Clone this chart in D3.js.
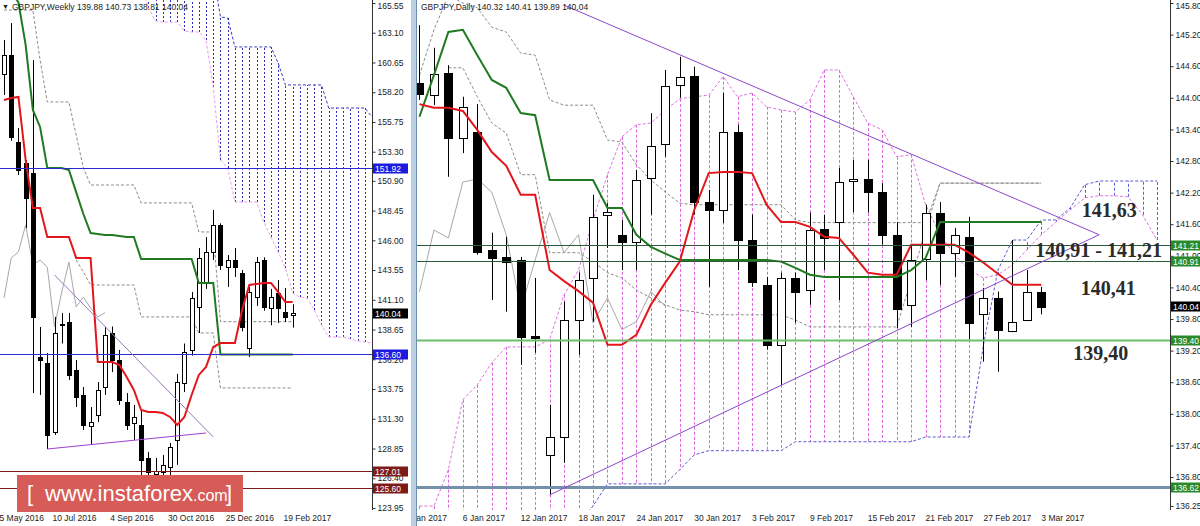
<!DOCTYPE html>
<html>
<head>
<meta charset="utf-8">
<script src="https://cdn.jsdelivr.net/npm/d3@7/dist/d3.min.js"></script>
<style>
  body { margin: 0; background: #fff; }
  svg { display: block; font-family: "Liberation Sans", Arial, sans-serif; }
  .axis text { font-size: 8.5px; fill: #222; }
  .axis line { stroke: #333; }
</style>
</head>
<body>
<svg class="chart" width="1200" height="526"></svg>
<script>
// ---------- weekly GBPJPY, weeks from 22 May 2016 to 26 Feb 2017 ----------
var wOpen  = [159.70,161.27,154.10,152.37,151.55,136.40,135.90,130.21,139.10,139.27,135.32,133.26,130.71,131.61,133.92,138.37,136.14,132.68,130.95,130.79,128.07,126.75,126.92,127.33,129.55,134.25,136.97,140.51,142.57,145.04,147.26,143.80,144.38,143.31,137.13,141.33,144.38,140.43,141.66,140.10,139.88];
var wHigh  = [162.50,163.90,155.25,152.62,160.85,138.86,136.72,139.69,140.02,140.02,136.14,133.92,132.27,134.33,138.86,138.90,136.97,133.42,132.44,132.02,128.57,128.07,128.32,129.31,135.00,137.50,141.74,145.37,146.27,148.50,147.40,144.79,145.37,143.56,142.16,144.63,144.60,142.00,142.73,142.07,140.73];
var wLow   = [157.97,154.20,151.38,147.00,133.42,133.26,128.81,129.97,137.50,134.50,132.27,130.38,129.14,131.04,133.26,135.15,132.44,130.38,129.55,124.00,125.90,126.00,126.20,126.50,127.50,133.50,136.50,138.37,142.00,144.38,143.56,142.16,142.98,138.50,136.39,140.60,140.20,139.00,139.19,139.27,138.81];
var wClose = [161.27,154.51,151.79,149.49,139.69,136.14,129.97,138.37,139.03,134.91,133.10,130.79,131.04,133.67,138.20,136.14,132.85,130.79,131.45,127.91,126.92,127.00,127.49,128.98,134.33,136.80,141.25,144.55,145.04,147.26,143.97,144.38,143.80,138.86,141.74,144.22,140.51,141.33,140.43,139.69,140.04];
var wTenkan = [157.56,157.73,157.81,152.62,148.66,148.66,146.27,146.27,146.27,146.27,144.55,144.55,144.55,135.98,135.98,135.98,135.73,134.74,133.67,132.02,131.86,131.86,131.78,131.45,130.79,131.45,133.26,134.91,135.57,137.21,137.54,137.54,137.54,140.26,142.32,142.40,142.49,142.49,141.74,140.92,140.92];
var wKijun = [166.50,166.50,165.60,162.10,156.74,155.34,151.96,151.96,151.96,151.79,149.97,148.17,146.60,146.52,146.44,146.44,146.35,146.27,146.27,144.46,144.46,144.46,144.46,144.46,144.46,144.46,144.46,142.49,142.49,142.49,136.60,136.60,136.60,136.60,136.60,136.60,136.60,136.60,136.60,136.60,136.60];
// cloud, 41 weeks + 11 weeks ahead
var wSpanA = [167,167,167,167,167,167,167,167,167,167,167,167,167,167,167,167,167,167,167,167,165.14,164.07,163.98,163.98,163.98,163.24,163.16,163.16,162.50,158.63,152.62,151.96,149.16,149.16,149.16,149.16,147.51,146.27,145.04,143.72,141.66,141.33,141.25,140.26,139.03,138.04,138.04,138.04,137.87,137.71,137.63,137.54];
var wSpanB = [168,168,168,168,168,168,168,168,168,168,168,168,168,168,168,168,168,168,168,168,168,168,168,168,168,168,168,168,168,168,164.40,164.31,161.93,161.93,161.93,161.93,161.93,161.93,160.60,158.80,158.80,158.80,158.80,158.80,158.80,156.90,156.90,156.90,156.90,156.90,156.90,156.16];
var wChanHi = [164.97,164.97,164.97,164.97,164.97,160.85,157.40,157.40,157.40,157.40,154.68,151.96,150.56,150.56,150.56,150.56,150.56,150.56,150.56,149.08,149.08,149.08,149.08,149.08,149.08,149.08,149.08,146.69,146.69,146.69,139.30,139.30,139.30,139.30,139.30,139.30,139.30,139.30,139.30,139.30,139.30];
var wChanLo = [null,null,null,null,null,null,null,null,null,null,144.38,143.39,142.32,142.32,142.32,142.32,142.32,142.32,142.32,139.69,139.69,139.69,139.69,139.69,139.69,139.69,139.69,138.37,138.37,138.37,133.84,133.84,133.84,133.84,133.84,133.84,133.84,133.84,133.84,133.84,133.84];
var wTicks = [165.55,163.10,160.65,158.20,155.75,153.30,150.90,148.45,146.00,143.55,141.10,138.65,136.20,133.75,131.30,128.85,126.40,123.95];
var wTimeLabels = ["2016-05-15","2016-07-10","2016-09-04","2016-10-30","2016-12-25","2017-02-19"];
var wLevels = [151.92, 136.60, 127.01, 125.60];

// ---------- daily GBPJPY, 3 Jan 2017 to 3 Mar 2017 ----------
var dOpen  = [144.28,144.05,144.47,143.24,143.35,141.11,140.98,140.92,139.48,137.22,137.56,139.78,140.58,141.78,141.40,141.26,142.48,143.11,144.24,144.41,142.02,141.87,143.35,141.30,140.45,139.31,140.58,140.35,141.51,141.64,142.42,142.46,142.21,141.40,140.07,140.94,141.82,141.06,141.36,139.90,140.20,139.58,139.78,140.32];
var dHigh  = [145.38,144.95,144.62,144.02,143.88,141.44,141.36,140.98,140.58,138.17,140.13,140.68,142.16,142.00,141.68,142.63,143.71,144.53,144.78,144.59,142.25,144.09,143.49,141.78,140.60,140.68,140.68,141.82,141.78,142.67,142.82,142.82,142.38,141.64,141.21,141.97,142.02,141.53,141.74,140.39,140.32,141.30,140.73,140.41];
var dLow   = [143.96,143.86,142.50,142.95,141.02,140.16,139.94,138.93,139.16,136.46,137.07,139.12,139.75,141.15,140.73,140.73,141.78,142.88,144.00,141.78,140.41,141.62,140.73,140.41,139.22,138.55,139.73,140.07,140.73,140.16,141.83,141.82,141.21,139.63,139.65,140.54,140.45,140.60,139.41,138.99,138.80,139.55,139.76,139.89];
var dClose = [144.07,144.45,143.24,143.83,141.08,140.96,140.89,139.46,139.44,137.56,139.78,140.54,141.74,141.83,141.26,142.44,143.09,144.22,144.40,142.02,141.87,143.35,141.30,140.51,139.31,140.58,140.32,141.49,141.34,142.40,142.46,142.21,141.40,139.99,140.92,141.82,141.06,141.40,139.73,140.20,139.60,139.75,140.32,140.04];
var dTenkan = [143.88,143.81,143.81,143.75,143.39,142.97,142.71,142.16,142.16,140.73,140.52,140.33,140.11,139.31,139.31,139.50,140.07,140.49,140.89,141.87,142.57,142.59,142.59,142.57,141.97,141.64,141.64,141.55,141.36,141.34,141.02,140.68,140.64,140.64,141.21,141.21,141.21,141.21,141.06,140.87,140.66,140.45,140.45,140.45];
var dKijun = [143.64,144.43,145.25,145.29,144.81,144.34,144.19,143.71,143.67,142.44,142.44,142.44,142.44,141.91,141.91,141.40,141.17,141.04,140.92,140.92,140.92,140.92,140.92,140.92,140.92,140.89,140.77,140.64,140.60,140.60,140.60,140.60,140.60,140.60,140.73,140.96,141.64,141.64,141.64,141.64,141.64,141.64,141.64,141.64];
// cloud, 44 days + 8 days ahead
var dSpanA = [136.25,136.25,136.94,138.27,138.55,138.97,139.27,139.27,139.27,139.41,140.26,140.73,141.68,142.54,143.26,143.49,143.52,143.77,143.98,144.02,144.05,144.40,144.02,144.09,143.83,143.77,143.73,143.96,144.53,144.53,144.02,143.52,143.39,142.88,142.92,141.97,141.40,141.02,140.73,140.58,140.64,140.83,141.11,141.40,141.64,141.87,142.10,142.14,142.14,142.12,141.78,141.30];
var dSpanB = [135.90,135.90,135.90,135.90,135.90,135.90,135.90,135.90,135.90,135.90,135.90,135.90,136.25,136.67,136.67,136.67,136.67,136.67,136.94,137.22,137.30,137.30,137.30,137.30,137.30,137.30,137.47,137.47,137.47,137.47,137.47,137.47,137.47,137.47,137.47,137.56,137.56,137.56,137.56,139.31,140.73,141.30,141.30,141.68,141.68,141.91,142.35,142.42,142.42,142.42,142.42,142.42];
var dChanHi = [144.43,145.29,145.95,145.80,145.71,145.34,145.25,144.85,144.81,143.96,143.86,143.86,143.86,143.20,143.16,142.73,142.44,142.21,142.00,141.97,141.97,141.97,141.97,141.97,141.97,141.97,141.68,141.63,141.63,141.63,141.63,141.63,141.63,141.63,141.63,141.63,142.38,142.38,142.38,142.38,142.38,142.38,142.38,142.38];
var dChanLo = [null,null,144.57,144.57,144.02,143.52,143.33,142.54,142.54,141.06,141.06,141.06,140.89,140.68,140.58,140.35,140.20,140.07,139.97,139.94,139.88,139.88,139.88,139.88,139.88,139.88,139.78,139.65,139.65,139.65,139.65,139.65,139.65,139.65,140.54,141.49,142.38,142.38,142.38,142.38,142.38,142.38,142.38,142.38];
var dTicks = [145.80,145.20,144.60,144.00,143.40,142.80,142.20,141.60,141.00,140.40,139.80,139.20,138.60,138.00,137.40,136.80,136.25];
var dTimeLabels = ["2017-01-02","2017-01-06","2017-01-12","2017-01-18","2017-01-24","2017-01-30","2017-02-03","2017-02-09","2017-02-15","2017-02-21","2017-02-27","2017-03-03"];
var dLevels = [141.21, 140.91, 139.40, 136.62];
var lastPrice = 140.04;

var svg = d3.select(".chart");
var parse = d3.utcParse("%Y-%m-%d");
var fmt = d3.utcFormat("%Y-%m-%d");
var labelFmt = d3.utcFormat("%-d %b %Y");

// weekly scales
var wAll = d3.utcWeek.range(parse("2016-05-22"), parse("2017-05-15"));
var wDates = wAll.slice(0, wOpen.length);
var xW = d3.scaleUtc().domain([wAll[0], wAll[wAll.length - 1]]).range([4, 372]);
var yW = d3.scaleLinear().domain([123.95, 165.55]).range([508, 3]);

// daily scales (trading days only)
var dAll = d3.utcDay.range(parse("2017-01-02"), parse("2017-03-16"))
  .filter(function(d) { var k = d.getUTCDay(); return k > 0 && k < 6; })
  .map(fmt);
var xD = d3.scalePoint().domain(dAll).range([405, 1157]);
var yD = d3.scaleLinear().domain([136.25, 145.80]).range([506, 3]);
var dDates = dAll.slice(1, 1 + dOpen.length);
var dCloud = dAll.slice(1);

var defs = svg.append("defs");
defs.append("clipPath").attr("id", "clipW").append("rect").attr("x", 0).attr("y", 0).attr("width", 372).attr("height", 510);
defs.append("clipPath").attr("id", "clipD").append("rect").attr("x", 417).attr("y", 0).attr("width", 753).attr("height", 510);
defs.append("clipPath").attr("id", "clipDL").append("rect").attr("x", 417).attr("y", 0).attr("width", 753).attr("height", 526);

function px(v) { return Math.round(v) + 0.5; }

function drawPanel(p) {
  var g = svg.append("g").attr("clip-path", "url(#" + p.clip + ")");

  // cloud hatching
  g.append("g").selectAll("line").data(d3.range(p.spanA.length)).enter().append("line")
    .attr("x1", function(i) { return px(p.x(p.cloudDates[i])); })
    .attr("x2", function(i) { return px(p.x(p.cloudDates[i])); })
    .attr("y1", function(i) { return p.y(p.spanA[i]); })
    .attr("y2", function(i) { return p.y(p.spanB[i]); })
    .attr("stroke", function(i) { return p.spanA[i] > p.spanB[i] ? p.pinkFill : p.blueFill; })
    .attr("stroke-dasharray", p.fillDash);

  var cloudLine = function(arr) {
    return d3.line().x(function(d, i) { return p.x(p.cloudDates[i]); }).y(function(d) { return p.y(d); })(arr);
  };
  g.append("path").attr("d", cloudLine(p.spanA)).attr("fill", "none")
    .attr("stroke", p.pinkLine).attr("stroke-dasharray", "3,2");
  g.append("path").attr("d", cloudLine(p.spanB)).attr("fill", "none")
    .attr("stroke", p.blueLine).attr("stroke-dasharray", "3,2");

  var barLine = d3.line()
    .defined(function(d) { return d != null; })
    .x(function(d, i) { return p.x(p.dates[i]); })
    .y(function(d) { return p.y(d); });

  // channel lines
  [p.chanHi, p.chanLo].forEach(function(arr) {
    g.append("path").attr("d", barLine(arr)).attr("fill", "none")
      .attr("stroke", "#8c8c8c").attr("stroke-dasharray", "3,2");
  });

  // chikou: close shifted 26 bars back
  var lag = d3.range(p.close.length - 26);
  g.append("path")
    .attr("d", d3.line().x(function(i) { return p.x(p.dates[i]); }).y(function(i) { return p.y(p.close[i + 26]); })(lag))
    .attr("fill", "none").attr("stroke", "#a8a8a8").attr("stroke-width", 1);

  // candles
  var idx = d3.range(p.open.length);
  g.append("g").selectAll("line").data(idx).enter().append("line")
    .attr("x1", function(i) { return px(p.x(p.dates[i])); })
    .attr("x2", function(i) { return px(p.x(p.dates[i])); })
    .attr("y1", function(i) { return p.y(p.high[i]); })
    .attr("y2", function(i) { return p.y(p.low[i]); })
    .attr("stroke", "#000");
  g.append("g").selectAll("rect").data(idx).enter().append("rect")
    .attr("x", function(i) { return Math.round(p.x(p.dates[i])) - Math.floor(p.bodyW / 2) + 0.5; })
    .attr("y", function(i) { return Math.round(p.y(Math.max(p.open[i], p.close[i]))) + 0.5; })
    .attr("width", p.bodyW - 1)
    .attr("height", function(i) { return Math.max(1, Math.round(Math.abs(p.y(p.open[i]) - p.y(p.close[i])))); })
    .attr("fill", function(i) { return p.close[i] >= p.open[i] ? "#fff" : "#000"; })
    .attr("stroke", "#000");

  // kijun & tenkan
  g.append("path").attr("d", barLine(p.kijun)).attr("fill", "none").attr("stroke", "#1f7a22").attr("stroke-width", 2);
  g.append("path").attr("d", barLine(p.tenkan)).attr("fill", "none").attr("stroke", "#e3161b").attr("stroke-width", 2);
  return g;
}

var gW = drawPanel({
  clip: "clipW", x: xW, y: yW, dates: wDates, cloudDates: wAll,
  open: wOpen, high: wHigh, low: wLow, close: wClose,
  tenkan: wTenkan, kijun: wKijun, spanA: wSpanA, spanB: wSpanB,
  chanHi: wChanHi, chanLo: wChanLo, bodyW: 5,
  pinkFill: "#e58de5", blueFill: "#2c2cb4", pinkLine: "#eb9deb", blueLine: "#3c3cc0", fillDash: "2,2"
});
var gD = drawPanel({
  clip: "clipD", x: xD, y: yD, dates: dDates, cloudDates: dCloud,
  open: dOpen, high: dHigh, low: dLow, close: dClose,
  tenkan: dTenkan, kijun: dKijun, spanA: dSpanA, spanB: dSpanB,
  chanHi: dChanHi, chanLo: dChanLo, bodyW: 9,
  pinkFill: "#dd66dd", blueFill: "#5560d8", pinkLine: "#e070e0", blueLine: "#5a5ad0", fillDash: "3,2"
});

// horizontal levels
var wLevelColor = ["#2b2bd0", "#2b2bd0", "#7d1a1a", "#7d1a1a"];
gW.selectAll(".lvl").data(wLevels).enter().append("line")
  .attr("x1", 0).attr("x2", 372)
  .attr("y1", function(d) { return px(yW(d)); }).attr("y2", function(d) { return px(yW(d)); })
  .attr("stroke", function(d, i) { return wLevelColor[i]; });

var dLevelColor = ["#2f5a3a", "#2f5a3a", "#6cbf6c", "#7590aa"];
var dLevelWidth = [1, 1, 2, 3];
gD.selectAll(".lvl").data(dLevels).enter().append("line")
  .attr("x1", 417).attr("x2", 1170)
  .attr("y1", function(d) { return px(yD(d)); }).attr("y2", function(d) { return px(yD(d)); })
  .attr("stroke", function(d, i) { return dLevelColor[i]; })
  .attr("stroke-width", function(d, i) { return dLevelWidth[i]; });

// trend lines
var tl = d3.line().x(function(d) { return d[0]; }).y(function(d) { return d[1]; });
gW.append("path").attr("d", tl([[xW(wDates[7]), yW(143.15)], [xW(wDates[29]), yW(129.80)]]))
  .attr("stroke", "#9a78b8").attr("fill", "none");
gW.append("path").attr("d", tl([[xW(wDates[6]), yW(wLow[6])], [xW(wDates[28]), yW(130.13)]]))
  .attr("stroke", "#a040d0").attr("fill", "none");
gD.append("path").attr("d", tl([[xD("2017-01-17"), yD(145.76)], [xD("2017-03-09"), yD(141.40)]]))
  .attr("stroke", "#8a48c8").attr("fill", "none");
gD.append("path").attr("d", tl([[xD("2017-01-16"), yD(136.46)], [xD("2017-03-09"), yD(141.40)]]))
  .attr("stroke", "#8a48c8").attr("fill", "none");

// annotations on daily
var notes = [
  { t: "141,63", d: "2017-03-08", p: 141.74, dx: -3 },
  { t: "140,91 - 141,21", d: "2017-03-03", p: 140.98, dx: -6 },
  { t: "140,41", d: "2017-03-08", p: 140.26, dx: -4 },
  { t: "139,40", d: "2017-03-07", p: 139.02, dx: 3 }
];
svg.selectAll(".note").data(notes).enter().append("text")
  .attr("x", function(d) { return xD(d.d) + d.dx; })
  .attr("y", function(d) { return yD(d.p); })
  .attr("font-family", "'Liberation Serif', 'Times New Roman', serif")
  .attr("font-weight", "bold").attr("font-size", 20).attr("fill", "#2b2b2b")
  .text(function(d) { return d.t; });

// axes
function yAxis(scale, ticks, xPos) {
  var g = svg.append("g").attr("class", "axis").attr("transform", "translate(" + (xPos + 0.5) + ",0)")
    .call(d3.axisRight(scale).tickValues(ticks).tickSize(3).tickSizeOuter(0).tickFormat(d3.format(".2f")));
  g.select(".domain").remove();
  g.selectAll("text").attr("x", 5)
    .attr("dy", function(d, i) { return i === 0 ? "0.6em" : "0.32em"; });
  svg.append("line").attr("x1", xPos + 0.5).attr("x2", xPos + 0.5).attr("y1", 0).attr("y2", 510).attr("stroke", "#333");
}
yAxis(yW, wTicks, 372);
yAxis(yD, dTicks, 1170);

svg.append("g").selectAll("text").data(wTimeLabels).enter().append("text")
  .attr("x", function(d) { return xW(parse(d)) - 2; })
  .attr("y", 521).attr("font-size", 8.5).attr("fill", "#222")
  .text(function(d) { return labelFmt(parse(d)); });
svg.append("g").attr("clip-path", "url(#clipDL)").selectAll("text").data(dTimeLabels).enter().append("text")
  .attr("x", function(d) { return xD(d); })
  .attr("y", 521).attr("font-size", 8.5).attr("fill", "#222")
  .text(function(d) { return labelFmt(parse(d)); });

// price tags on axes
function tag(x, yv, txt, fill, w) {
  svg.append("rect").attr("x", x).attr("y", Math.round(yv) - 4.5).attr("width", w).attr("height", 10).attr("fill", fill);
  svg.append("text").attr("x", x + 2).attr("y", Math.round(yv) + 3.5)
    .attr("font-size", 8.5).attr("fill", "#fff").text(txt);
}
var wTagColor = ["#1a1ae0", "#1a1ae0", "#7d1a1a", "#7d1a1a"];
wLevels.forEach(function(v, i) { tag(373, yW(v), v.toFixed(2), wTagColor[i], 35); });
tag(373, yW(lastPrice), lastPrice.toFixed(2), "#000", 35);
dLevels.forEach(function(v) { tag(1171, yD(v), v.toFixed(2), "#2a8a2a", 30); });
tag(1171, yD(lastPrice), lastPrice.toFixed(2), "#000", 30);

// panel separator
svg.append("rect").attr("x", 411).attr("y", 0).attr("width", 5).attr("height", 526).attr("fill", "#bcd0e4");
svg.append("line").attr("x1", 416.5).attr("x2", 416.5).attr("y1", 0).attr("y2", 526).attr("stroke", "#6f8fb0");

// titles
svg.append("text").attr("x", 2).attr("y", 9).attr("font-size", 7).attr("fill", "#222").text("\u25BC");
svg.append("text").attr("x", 12).attr("y", 10).attr("font-size", 8.5).attr("fill", "#222")
  .text("GBPJPY,Weekly  139.88 140.73 138.81 140.04");
svg.append("text").attr("x", 421).attr("y", 10).attr("font-size", 8.5).attr("fill", "#222")
  .text("GBPJPY,Daily  140.32 140.41 139.89 140.04");

// watermark
var wm = svg.append("g");
wm.append("rect").attr("x", 17).attr("y", 475).attr("width", 226).attr("height", 37).attr("fill", "#d75b57");
wm.append("text").attr("x", 27).attr("y", 501).attr("font-size", 22).attr("fill", "#fff").text("[");
wm.append("text").attr("x", 45).attr("y", 501).attr("font-size", 22).attr("fill", "#fff")
  .text("www.instaforex").append("tspan").attr("font-size", 16).text(".com");
wm.append("text").attr("x", 226).attr("y", 501).attr("font-size", 22).attr("fill", "#fff").text("]");
</script>
</body>
</html>
